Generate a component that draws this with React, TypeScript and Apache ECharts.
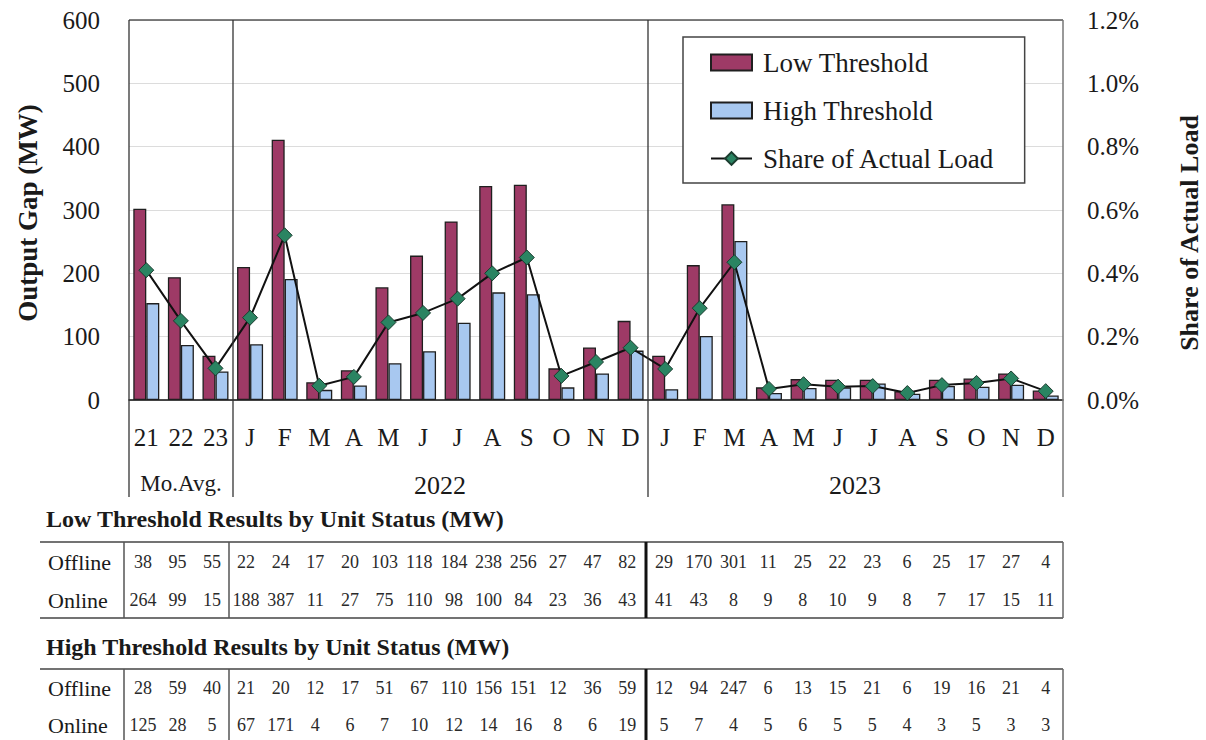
import React, { useEffect, useRef } from "react";
import * as echarts from "echarts";

const categories = ["21","22","23","J","F","M","A","M","J","J","A","S","O","N","D","J","F","M","A","M","J","J","A","S","O","N","D"];
const lowThreshold = [302,194,70,210,411,28,47,178,228,282,338,340,50,83,125,70,213,309,20,33,32,32,14,32,34,42,15];
const highThreshold = [153,87,45,88,191,16,23,58,77,122,170,167,20,42,78,17,101,251,11,19,20,26,10,22,21,24,7];
const shareOfLoad = [0.41,0.25,0.10,0.26,0.52,0.045,0.073,0.245,0.275,0.32,0.40,0.45,0.076,0.12,0.165,0.098,0.29,0.435,0.035,0.05,0.042,0.044,0.022,0.047,0.054,0.068,0.028];
const groupLabels = ["Mo.Avg.", "2022", "2023"];
const lowOffline = [38,95,55,22,24,17,20,103,118,184,238,256,27,47,82,29,170,301,11,25,22,23,6,25,17,27,4];
const lowOnline = [264,99,15,188,387,11,27,75,110,98,100,84,23,36,43,41,43,8,9,8,10,9,8,7,17,15,11];
const highOffline = [28,59,40,21,20,12,17,51,67,110,156,151,12,36,59,12,94,247,6,13,15,21,6,19,16,21,4];
const highOnline = [125,28,5,67,171,4,6,7,10,12,14,16,8,6,19,5,7,4,5,6,5,5,4,3,5,3,3];
const rowLabels = ["Offline", "Online"];
const tableTitles = ["Low Threshold Results by Unit Status (MW)", "High Threshold Results by Unit Status (MW)"];

const FONT = "'Liberation Serif', 'Times New Roman', serif";
const TXT = "#1a1a1a";

function colX(i: number): number {
  if (i < 3) return 143 + i * 34.5;
  if (i < 15) return 246 + (i - 3) * 34.65;
  return 664 + (i - 15) * 34.7;
}

export default function App() {
  const ref = useRef<HTMLDivElement>(null);
  useEffect(() => {
    if (!ref.current) return;
    const chart = echarts.init(ref.current, null, { renderer: "svg" });
    const graphics: any[] = [];
    const line = (x1: number, y1: number, x2: number, y2: number, color = "#3a3a3a", w = 1.3) =>
      graphics.push({ type: "line", shape: { x1, y1, x2, y2 }, style: { stroke: color, lineWidth: w }, z: 10 });

    // chart frame and group separators
    line(129, 20, 1063, 20, "#555");
    line(129, 20, 129, 497, "#333");
    line(233, 20, 233, 497, "#333");
    line(648, 20, 648, 497, "#333");
    line(1063, 20, 1063, 497, "#777", 1.5);

    // group labels
    const groupPos = [{ x: 181, y: 483, s: 23 }, { x: 440, y: 485, s: 26 }, { x: 855, y: 485, s: 26 }];
    groupLabels.forEach((t, i) => {
      graphics.push({ type: "text", x: groupPos[i].x, y: groupPos[i].y, style: { text: t, font: `${groupPos[i].s}px ${FONT}`, fill: TXT, textAlign: "center", textVerticalAlign: "middle" } });
    });

    // axis names
    graphics.push({ type: "text", x: 28, y: 213, rotation: Math.PI / 2, style: { text: "Output Gap (MW)", font: `bold 27px ${FONT}`, fill: TXT, textAlign: "center", textVerticalAlign: "middle" } });
    graphics.push({ type: "text", x: 1189, y: 233, rotation: Math.PI / 2, style: { text: "Share of Actual Load", font: `bold 26px ${FONT}`, fill: TXT, textAlign: "center", textVerticalAlign: "middle" } });

    // tables
    const tables = [
      { title: tableTitles[0], titleY: 519, top: 542, bottom: 618, rows: [lowOffline, lowOnline], rowY: [562, 600] },
      { title: tableTitles[1], titleY: 647, top: 669, bottom: 760, rows: [highOffline, highOnline], rowY: [688, 725] },
    ];
    tables.forEach((tb) => {
      graphics.push({ type: "text", x: 46, y: tb.titleY, style: { text: tb.title, font: `bold 24px ${FONT}`, fill: TXT, textAlign: "left", textVerticalAlign: "middle" } });
      line(40, tb.top, 1063, tb.top, "#444", 1.6);
      if (tb.bottom < 740) line(40, tb.bottom, 1063, tb.bottom, "#444", 1.6);
      const yb = Math.min(tb.bottom, 742);
      line(124, tb.top, 124, yb, "#555", 1.5);
      line(229, tb.top, 229, yb, "#555", 1.5);
      line(646, tb.top, 646, yb, "#111", 3);
      line(1063, tb.top, 1063, yb, "#666", 1.5);
      tb.rows.forEach((vals, r) => {
        graphics.push({ type: "text", x: 48, y: tb.rowY[r], style: { text: rowLabels[r], font: `22px ${FONT}`, fill: TXT, textAlign: "left", textVerticalAlign: "middle" } });
        vals.forEach((v, i) => {
          graphics.push({ type: "text", x: colX(i), y: tb.rowY[r], style: { text: String(v), font: `18px ${FONT}`, fill: "#2a2a2a", textAlign: "center", textVerticalAlign: "middle" } });
        });
      });
    });

    chart.setOption({
      animation: false,
      backgroundColor: "#ffffff",
      textStyle: { fontFamily: FONT },
      grid: { left: 129, right: 143, top: 20, bottom: 340, containLabel: false },
      legend: {
        orient: "vertical",
        left: 683,
        top: 37,
        padding: [12, 30, 11, 27],
        itemGap: 21,
        itemWidth: 41,
        itemHeight: 16,
        borderColor: "#444",
        borderWidth: 1.5,
        backgroundColor: "#fff",
        textStyle: { fontFamily: FONT, fontSize: 27, color: TXT, padding: [0, 0, 0, 6] },
        data: [
          { name: "Low Threshold", icon: "rect" },
          { name: "High Threshold", icon: "rect" },
          { name: "Share of Actual Load" },
        ],
      },
      xAxis: {
        type: "category",
        data: categories,
        axisLine: { show: true, lineStyle: { color: "#111", width: 1.5 } },
        axisTick: { show: false },
        axisLabel: { interval: 0, fontFamily: FONT, fontSize: 25, color: TXT, margin: 25 },
      },
      yAxis: [
        {
          type: "value",
          min: 0,
          max: 600,
          interval: 100,
          axisLine: { show: false },
          axisTick: { show: false },
          axisLabel: { fontFamily: FONT, fontSize: 25, color: TXT, margin: 29 },
          splitLine: { show: true, lineStyle: { color: "#dcdcdc", width: 1.2 } },
        },
        {
          type: "value",
          min: 0,
          max: 1.2,
          interval: 0.2,
          position: "right",
          axisLine: { show: false },
          axisTick: { show: false },
          axisLabel: { fontFamily: FONT, fontSize: 25, color: TXT, margin: 24, formatter: (v: number) => v.toFixed(1) + "%" },
          splitLine: { show: false },
        },
      ],
      series: [
        {
          name: "Low Threshold",
          type: "bar",
          data: lowThreshold,
          barWidth: 13,
          barGap: "0%",
          itemStyle: { color: "#9e3a66", borderColor: "#1f1f1f", borderWidth: 1.3 },
        },
        {
          name: "High Threshold",
          type: "bar",
          data: highThreshold,
          barWidth: 13,
          barGap: "0%",
          itemStyle: { color: "#a8c8f0", borderColor: "#1f1f1f", borderWidth: 1.3 },
        },
        {
          name: "Share of Actual Load",
          type: "line",
          yAxisIndex: 1,
          data: shareOfLoad,
          symbol: "diamond",
          symbolSize: 15,
          lineStyle: { color: "#111", width: 2 },
          itemStyle: { color: "#2a8462", borderColor: "#1c3d30", borderWidth: 1 },
          z: 5,
        },
      ],
      graphic: graphics,
    });
    return () => chart.dispose();
  }, []);
  return <div ref={ref} style={{ position: "fixed", left: 0, top: 0, width: 1206, height: 740 }} />;
}
